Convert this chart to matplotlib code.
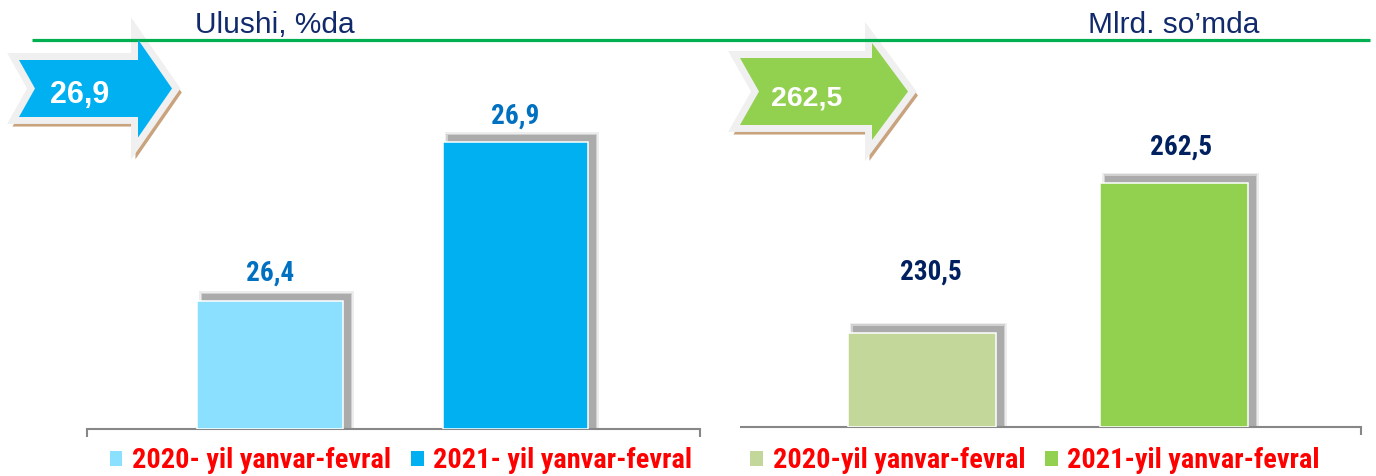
import matplotlib
matplotlib.use('Agg')
import matplotlib.pyplot as plt
from matplotlib.patches import Polygon, Rectangle, Patch
from matplotlib.transforms import IdentityTransform
from matplotlib import font_manager

# --- data ---
share_labels = ['2020- yil yanvar-fevral', '2021- yil yanvar-fevral']
share_values = [26.4, 26.9]
share_colors = ['#8BE0FF', '#00B0F0']
share_title = 'Ulushi, %da'

sum_labels = ['2020-yil yanvar-fevral', '2021-yil yanvar-fevral']
sum_values = [230.5, 262.5]
sum_colors = ['#C4D79B', '#92D050']
sum_title = 'Mlrd. so\u2019mda'

W, H = 1376, 476

# a condensed bold face close to Arial Narrow
names = {f.name for f in font_manager.fontManager.ttflist}
narrow_pick = next((n for n in ['Liberation Sans Narrow', 'Arial Narrow', 'Roboto Condensed',
                                'PT Sans Narrow', 'Archivo Narrow', 'Asap Condensed']
                    if n in names), 'Liberation Sans')
NARROW = [narrow_pick, 'Liberation Sans', 'DejaVu Sans']
SANS = ['Liberation Sans', 'DejaVu Sans']


def fmt(v):
    return f'{v:.1f}'.replace('.', ',')


def bar_shadow(ax, x, top, w, base):
    # soft grey drop shadow, up and to the right of the bar
    (x0, y1) = ax.transData.transform((x - w / 2, top))
    (x1, y0) = ax.transData.transform((x + w / 2, base))
    for grow, col in [(3, '#EDEDED'), (1.5, '#D0D0D0'), (0, '#ABABAB')]:
        r = Rectangle((x0 + 5 - grow, y0), (x1 - x0) + 3 + 2 * grow, (y1 - y0) + 7 + grow,
                      transform=IdentityTransform(), facecolor=col, edgecolor='none', zorder=1)
        ax.add_artist(r)


def draw_panel(ax, labels, values, colors, ylim, xlim, width, lbl_dx, lbl_dy, lbl_color,
               ticks, legend_x):
    ax.set_xlim(*xlim)
    ax.set_ylim(*ylim)
    ax.patch.set_alpha(0)
    xs = list(range(len(values)))
    for x, v in zip(xs, values):
        bar_shadow(ax, x, v, width, ylim[0])
    ax.bar(xs, [v - ylim[0] for v in values], bottom=ylim[0], width=width, color=colors,
           edgecolor='white', linewidth=1.1, zorder=3)
    for x, v, dx, dy in zip(xs, values, lbl_dx, lbl_dy):
        ax.annotate(fmt(v), (x, v), xytext=(dx * 0.72, dy * 0.72), textcoords='offset points',
                    ha='center', va='center', fontsize=19.5, fontweight='bold',
                    family=NARROW, color=lbl_color)
    for s in ['top', 'left', 'right']:
        ax.spines[s].set_visible(False)
    ax.spines['bottom'].set_color('#878787')
    ax.spines['bottom'].set_linewidth(1.5)
    ax.set_xticks([])
    ax.set_yticks([])
    tick_len = 8 / (ax.get_position().height * H)
    for t in ticks:
        ax.plot([t, t], [0, -tick_len], transform=ax.transAxes, color='#878787', lw=1.5,
                clip_on=False, solid_capstyle='butt')
    handles = [Patch(facecolor=c, edgecolor='none') for c in colors]
    ax.legend(handles, labels, loc='center', bbox_to_anchor=(legend_x / W, 1 - 461 / H),
              bbox_transform=ax.figure.transFigure, ncol=2, frameon=False,
              prop=dict(family=NARROW, weight='bold', size=20.3), labelcolor='#FF0000',
              handlelength=0.45, handleheight=0.45, handletextpad=0.35, columnspacing=0.7,
              borderpad=0, borderaxespad=0)


fig = plt.figure(figsize=(W / 100, H / 100), dpi=100)

ax1 = fig.add_axes([87 / W, (H - 429) / H, (700 - 87) / W, (429 - 40) / H])
draw_panel(ax1, share_labels, share_values, share_colors, (26.0, 27.22), (-0.747, 1.755), 0.592,
           [0, 0], [28, 26], '#0070C0', [0, 1], 401)

ax2 = fig.add_axes([741 / W, (H - 427) / H, (1361 - 741) / W, (427 - 40) / H])
draw_panel(ax2, sum_labels, sum_values, sum_colors, (210.4, 293.0), (-0.718, 1.742), 0.587,
           [9, 7], [61, 36], '#002060', [1], 1035)

# overlay in image pixel coordinates for header line, titles and arrows
ov = fig.add_axes([0, 0, 1, 1], zorder=5)
ov.set_xlim(0, W)
ov.set_ylim(H, 0)
ov.axis('off')

ov.plot([32, 1370], [40, 40], color='#00B050', lw=2.3, zorder=3, solid_capstyle='butt')
ov.text(275, 33, share_title, ha='center', va='baseline', fontsize=21.5, color='#102A6B',
        family=SANS)
ov.text(1174, 33, sum_title, ha='center', va='baseline', fontsize=21.5, color='#102A6B',
        family=SANS)


def arrow(left, head, tip, cy, body_h, head_h, notch, color, text, size):
    pts = [(left, cy - body_h / 2), (head, cy - body_h / 2), (head, cy - head_h / 2), (tip, cy),
           (head, cy + head_h / 2), (head, cy + body_h / 2), (left, cy + body_h / 2),
           (left + notch, cy)]
    shadow = [(px + 3, py + 4) for px, py in pts]
    ov.add_patch(Polygon(shadow, closed=True, facecolor='#C9A27E', edgecolor='#C9A27E', lw=8,
                         joinstyle='miter', zorder=1))
    ov.add_patch(Polygon(pts, closed=True, facecolor='#F0F0F0', edgecolor='#F0F0F0', lw=10,
                         joinstyle='miter', zorder=2))
    ov.add_patch(Polygon(pts, closed=True, facecolor=color, edgecolor='none', zorder=4))
    ov.text((left + head) / 2 + 1, cy + 7, text, ha='center', va='center', fontsize=size,
            fontweight='bold', color='white', family=SANS, zorder=5)


arrow(19, 138, 172, 88.5, 57, 98, 16, share_colors[1], fmt(share_values[1]), 22)
arrow(740, 872, 908, 91.5, 67, 97, 19, sum_colors[1], fmt(sum_values[1]), 20.5)

fig.savefig('out.png', dpi=100)
